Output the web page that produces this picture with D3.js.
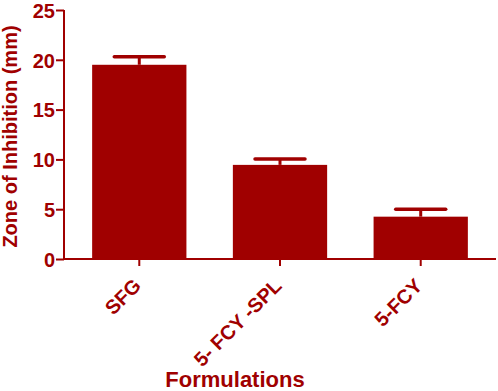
<!DOCTYPE html>
<html>
<head>
<meta charset="utf-8">
<script src="https://cdn.jsdelivr.net/npm/d3@7"></script>
<style>
  body { margin: 0; background: #fff; }
  svg { display: block; }
</style>
</head>
<body>
<div id="chart"></div>
<script>
// data
const categories = ["SFG", "5- FCY -SPL", "5-FCY"];
const means = [19.5, 9.45, 4.25];
const errors = [0.8, 0.6, 0.75];
const yTicks = [0, 5, 10, 15, 20, 25];

const width = 498, height = 391;
const red = "#a00000";
const plotLeft = 64, plotRight = 496, plotTop = 10, plotBottom = 259;

const svg = d3.select("#chart").append("svg")
    .attr("width", width)
    .attr("height", height)
    .style("font-family", "'Liberation Sans', Arial, sans-serif");

const x = d3.scaleBand()
    .domain(categories)
    .range([plotLeft, plotRight])
    .paddingInner(0.33)
    .paddingOuter(0.2);

const y = d3.scaleLinear()
    .domain([0, 25])
    .range([plotBottom, plotTop]);

// bars
svg.selectAll(".bar")
    .data(categories)
    .enter()
    .append("rect")
    .attr("class", "bar")
    .attr("x", d => x(d))
    .attr("y", (d, i) => y(means[i]))
    .attr("width", x.bandwidth())
    .attr("height", (d, i) => y(0) - y(means[i]))
    .attr("fill", red);

// error bars (upper only)
const capW = 50;
const err = svg.selectAll(".err")
    .data(categories)
    .enter()
    .append("g")
    .attr("class", "err");

err.append("line")
    .attr("x1", d => x(d) + x.bandwidth() / 2)
    .attr("x2", d => x(d) + x.bandwidth() / 2)
    .attr("y1", (d, i) => y(means[i]))
    .attr("y2", (d, i) => y(means[i] + errors[i]))
    .attr("stroke", red)
    .attr("stroke-width", 3);

err.append("line")
    .attr("x1", d => x(d) + x.bandwidth() / 2 - capW / 2)
    .attr("x2", d => x(d) + x.bandwidth() / 2 + capW / 2)
    .attr("y1", (d, i) => y(means[i] + errors[i]))
    .attr("y2", (d, i) => y(means[i] + errors[i]))
    .attr("stroke", red)
    .attr("stroke-width", 3.5)
    .attr("stroke-linecap", "round");

// y axis
const yAxis = svg.append("g")
    .attr("transform", `translate(${plotLeft},0)`)
    .call(d3.axisLeft(y).tickValues(yTicks).tickSize(8).tickPadding(1));

// x axis
const xAxis = svg.append("g")
    .attr("transform", `translate(0,${plotBottom})`)
    .call(d3.axisBottom(x).tickSize(7).tickSizeOuter(0));

[yAxis, xAxis].forEach(g => {
    g.select(".domain").attr("stroke", red).attr("stroke-width", 2);
    g.selectAll(".tick line").attr("stroke", red).attr("stroke-width", 2);
    g.selectAll("text").attr("fill", red).style("font-family", "'Liberation Sans', Arial, sans-serif");
});

yAxis.select(".domain").attr("d", `M0,${plotTop}V${plotBottom}`);
xAxis.select(".domain").attr("d", `M${plotLeft},0H${plotRight}`);

yAxis.selectAll("text")
    .style("font-size", "20px")
    .style("font-weight", "bold")
    .attr("dy", "0.36em");

xAxis.selectAll("text")
    .style("font-size", "20px")
    .style("font-weight", "bold")
    .attr("text-anchor", "end")
    .attr("dy", 0)
    .attr("y", 0)
    .attr("transform", "translate(3,28) rotate(-45)");

// axis titles
svg.append("text")
    .attr("transform", `translate(17,${(plotTop + plotBottom) / 2 + 2}) rotate(-90)`)
    .attr("text-anchor", "middle")
    .attr("fill", red)
    .style("font-size", "20px")
    .style("font-weight", "bold")
    .text("Zone of Inhibition (mm)");

svg.append("text")
    .attr("x", 235)
    .attr("y", 387)
    .attr("text-anchor", "middle")
    .attr("fill", red)
    .style("font-size", "22px")
    .style("font-weight", "bold")
    .text("Formulations");
</script>
</body>
</html>
